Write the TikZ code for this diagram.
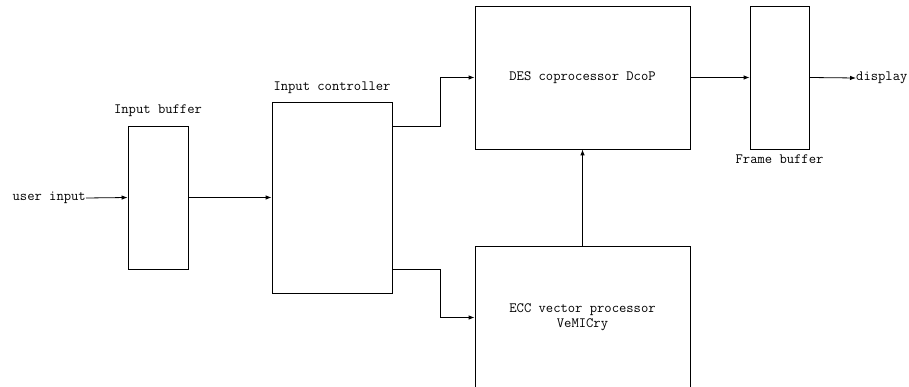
\documentclass[tikz,border=0pt]{standalone}
\usetikzlibrary{arrows.meta,positioning}

\tikzset{
  block/.style={draw, line width=0.8pt, inner sep=0pt, align=center},
  lbl/.style={font=\ttfamily\fontsize{14.2}{15}\selectfont, inner sep=0pt},
  flow/.style={-{Latex[length=6pt,width=4.5pt]}, line width=0.8pt},
}

\begin{document}
\begin{tikzpicture}[x=1pt, y=-1pt, font=\ttfamily\fontsize{14.2}{15}\selectfont]
    % frame in pixel units of the reference (y runs downwards)
    \useasboundingbox (0,0) rectangle (909,387);
    % buffers and processing blocks
    \node[block, minimum width=60pt, minimum height=143pt,
          label={[lbl, yshift=9pt]above:Input buffer}] (inbuf) at (158,197.5) {};
    \node[block, minimum width=120pt, minimum height=191pt,
          label={[lbl, yshift=8pt]above:Input controller}] (inctrl) at (332,197.5) {};
    \node[block, minimum width=215pt, minimum height=143pt] (des) at (582.5,77.5) {DES coprocessor DcoP};
    \node[block, minimum width=215pt, minimum height=143pt] (ecc) at (582.5,317.5) {ECC vector processor\\VeMICry};
    \node[block, minimum width=59pt, minimum height=143pt,
          label={[lbl, yshift=-5pt]below:Frame buffer}] (frbuf) at (779.5,77.5) {};
    % external ends
    \node[lbl, anchor=east] (user) at (86,198) {user input};
    \node[lbl, anchor=west] (disp) at (856,78) {display};
    % taps on the controller output side
    \coordinate (ctrlA) at ([yshift=71.5pt]inctrl.east);
    \coordinate (ctrlB) at ([yshift=-71.5pt]inctrl.east);
    % data flow
    \draw[flow] (user.east) -- (inbuf.west);
    \draw[flow] (inbuf.east) -- (inctrl.west);
    \draw[flow] (ctrlA) -- ++(48,0) |- (des.west);
    \draw[flow] (ctrlB) -- ++(48,0) |- (ecc.west);
    \draw[flow] (ecc.north) -- (des.south);
    \draw[flow] (des.east) -- (frbuf.west);
    \draw[flow] (frbuf.east) -- (disp.west);
\end{tikzpicture}
\end{document}
